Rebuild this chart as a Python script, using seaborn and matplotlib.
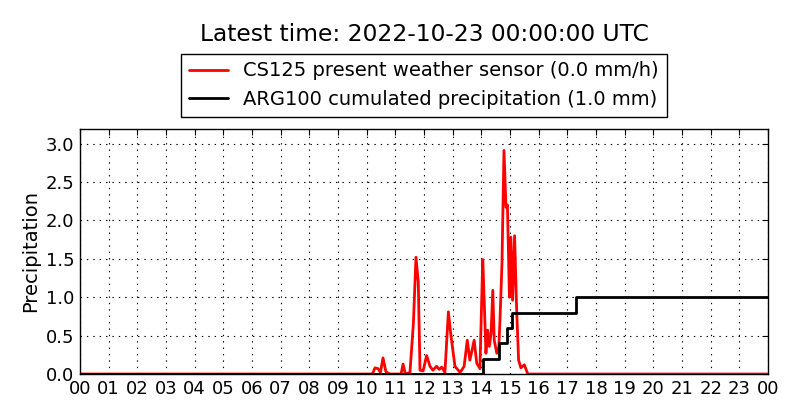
import matplotlib
matplotlib.use("Agg")
import matplotlib.pyplot as plt
import seaborn as sns
import numpy as np
import pandas as pd

title_text = "Latest time: 2022-10-23 00:00:00 UTC"
red_label = "CS125 present weather sensor (0.0 mm/h)"
black_label = "ARG100 cumulated precipitation (1.0 mm)"
y_label = "Precipitation"

red_hours = [0.0, 10.20, 10.29, 10.40, 10.48, 10.57, 10.67, 10.80, 11.20, 11.27, 11.35,
             11.51, 11.63, 11.72, 11.80, 11.86, 11.97, 12.09, 12.21, 12.31, 12.44, 12.53,
             12.62, 12.73, 12.85, 12.93, 13.08, 13.26, 13.40, 13.51, 13.60, 13.67, 13.75,
             13.84, 13.95, 14.05, 14.10, 14.16, 14.22, 14.28, 14.34, 14.40, 14.45, 14.54,
             14.61, 14.65, 14.72, 14.79, 14.86, 14.91, 14.95, 14.98, 15.03, 15.09, 15.16,
             15.23, 15.30, 15.38, 15.50, 15.62, 24.0]
red_values = [0.0, 0.0, 0.08, 0.07, 0.02, 0.21, 0.03, 0.0, 0.0, 0.13, 0.0,
              0.02, 0.66, 1.52, 1.20, 0.05, 0.04, 0.24, 0.10, 0.05, 0.10, 0.06,
              0.09, 0.02, 0.81, 0.53, 0.10, 0.02, 0.10, 0.44, 0.18, 0.30, 0.44,
              0.14, 0.07, 1.49, 0.96, 0.27, 0.57, 0.36, 0.53, 1.09, 0.44, 0.27,
              0.35, 0.70, 1.44, 2.91, 2.17, 2.20, 1.52, 1.00, 1.78, 0.96, 1.80,
              0.86, 0.18, 0.08, 0.12, 0.0, 0.0]

black_hours = [0.0, 14.05, 14.62, 14.91, 15.06, 17.30, 24.0]
black_values = [0.0, 0.2, 0.4, 0.6, 0.8, 1.0, 1.0]

hour_ticks = list(range(0, 25))
hour_labels = ["%02d" % (h % 24) for h in hour_ticks]
y_ticks = [0.0, 0.5, 1.0, 1.5, 2.0, 2.5, 3.0]

sns.set_style("white")
plt.rcParams["font.family"] = ["DejaVu Sans"]
plt.rcParams["text.color"] = "black"
plt.rcParams["axes.labelcolor"] = "black"
plt.rcParams["xtick.color"] = "black"
plt.rcParams["ytick.color"] = "black"

red_df = pd.DataFrame({"hour": red_hours, "value": red_values})
black_df = pd.DataFrame({"hour": black_hours, "value": black_values})

fig = plt.figure(figsize=(8, 4.2), dpi=100)
fig.patch.set_facecolor("white")
ax = fig.add_axes([0.1, 0.1095, 0.86, 0.5835])

sns.lineplot(data=red_df, x="hour", y="value", ax=ax, color="red", lw=2,
             estimator=None, sort=False, label=red_label)
sns.lineplot(data=black_df, x="hour", y="value", ax=ax, color="black", lw=2,
             estimator=None, sort=False, drawstyle="steps-post", label=black_label)

ax.set_xlim(0, 24)
ax.set_ylim(0, 3.19)
ax.set_xticks(hour_ticks)
ax.set_xticklabels(hour_labels)
ax.set_yticks(y_ticks)
ax.set_yticklabels(["%.1f" % v for v in y_ticks])
ax.set_xlabel("")
ax.set_ylabel(y_label, fontsize=14, color="black")
ax.grid(True, color="black", linestyle=(0, (1.25, 4.5)), linewidth=0.8)
ax.tick_params(direction="in", length=4, width=0.8, top=True, right=True,
               labelsize=13, pad=4, colors="black")
for s in ax.spines.values():
    s.set_color("black")
    s.set_linewidth(1.0)

leg = ax.legend(loc="lower center", bbox_to_anchor=(0.5, 1.049), borderaxespad=0,
                fontsize=14, frameon=True, fancybox=False, framealpha=1,
                edgecolor="black", handlelength=2, labelcolor="black")
leg.get_frame().set_linewidth(1.0)

fig.text(0.531, 0.917, title_text, ha="center", va="center", fontsize=16.8, color="black")

fig.savefig("out.png", dpi=100, facecolor="white")
